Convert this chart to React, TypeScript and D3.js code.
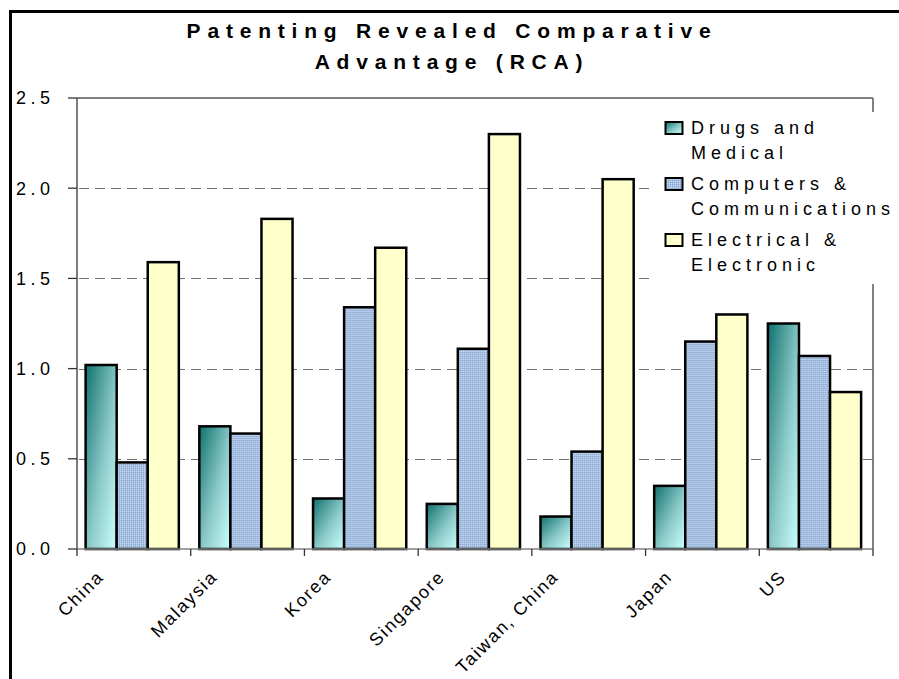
import React from "react";
import * as d3 from "d3";

const categories = ["China", "Malaysia", "Korea", "Singapore", "Taiwan, China", "Japan", "US"];
const drugs = [1.02, 0.68, 0.28, 0.25, 0.18, 0.35, 1.25];
const computers = [0.48, 0.64, 1.34, 1.11, 0.54, 1.15, 1.07];
const electrical = [1.59, 1.83, 1.67, 2.3, 2.05, 1.3, 0.87];
const seriesKeys = ["drugs", "computers", "electrical"];
const legendLines = [
  ["Drugs and", "Medical"],
  ["Computers &", "Communications"],
  ["Electrical &", "Electronic"],
];
const yTicks = [0, 0.5, 1.0, 1.5, 2.0, 2.5];
const titleLines = ["Patenting Revealed Comparative", "Advantage (RCA)"];

const W = 899;
const H = 679;
const left = 77;
const right = 873;
const top = 98;
const bottom = 549;
const font = "Arial, 'Liberation Sans', sans-serif";

const fills = ["url(#drugGrad)", "url(#compPat)", "#ffffcc"];

export default function App() {
  const values = [drugs, computers, electrical];

  const x = d3.scaleBand().domain(categories).range([left, right]).padding(0);
  const inner = d3
    .scaleBand()
    .domain(seriesKeys)
    .range([0, x.bandwidth()])
    .paddingInner(0)
    .paddingOuter(0.33)
    .align(0.42);
  const y = d3.scaleLinear().domain([0, 2.5]).range([bottom, top]);

  const bounds = categories.map((c) => x(c)).concat([right]);

  return (
    <div style={{ position: "absolute", left: 0, top: 0 }}>
      <svg width={W} height={H} style={{ display: "block", fontFamily: font }}>
        <defs>
          <linearGradient id="drugGrad" x1="0" y1="0" x2="1" y2="1">
            <stop offset="0" stopColor="#0f716d" />
            <stop offset="0.55" stopColor="#8ccaca" />
            <stop offset="1" stopColor="#ccffff" />
          </linearGradient>
          <pattern id="compPat" width="2" height="2" patternUnits="userSpaceOnUse">
            <rect width="2" height="2" fill="#a6c0e2" />
            <rect width="1" height="1" fill="#8aa9d2" />
            <rect x="1" y="1" width="1" height="1" fill="#c4d7ee" />
          </pattern>
        </defs>
        <rect width={W} height={H} fill="#fff" />
        <rect x={10.5} y={11.5} width={W + 20} height={H + 20} fill="#fff" stroke="#000" strokeWidth={3} />

        {/* title */}
        {titleLines.map((t, i) => (
          <text
            key={t}
            x={452}
            y={38 + i * 31}
            textAnchor="middle"
            fontSize={21}
            fontWeight="bold"
            letterSpacing={6.8}
            fill="#000"
          >
            {t}
          </text>
        ))}

        {/* plot frame */}
        <line x1={left} x2={right} y1={top} y2={top} stroke="#808080" strokeWidth={2} />
        <line x1={right} x2={right} y1={top} y2={bottom} stroke="#808080" strokeWidth={2} />

        {/* gridlines */}
        {yTicks.slice(1, -1).map((t) => (
          <line
            key={t}
            x1={left + 2}
            x2={right}
            y1={Math.round(y(t)) + 0.5}
            y2={Math.round(y(t)) + 0.5}
            stroke="#707070"
            strokeWidth={1.2}
            strokeDasharray="10,6"
          />
        ))}

        {/* bars */}
        {categories.map((c, ci) => (
          <g key={c} transform={`translate(${x(c)},0)`}>
            {seriesKeys.map((k, si) => (
              <rect
                key={k}
                x={inner(k)}
                y={y(values[si][ci])}
                width={inner.bandwidth()}
                height={bottom - y(values[si][ci])}
                fill={fills[si]}
                stroke="#000"
                strokeWidth={2.5}
              />
            ))}
          </g>
        ))}

        {/* axes */}
        <line x1={left} x2={left} y1={top} y2={bottom} stroke="#505050" strokeWidth={1.5} />
        <line x1={left} x2={right} y1={bottom} y2={bottom} stroke="#808080" strokeWidth={1.5} />
        {yTicks.map((t) => (
          <g key={t}>
            <line x1={68} x2={left} y1={y(t)} y2={y(t)} stroke="#333" strokeWidth={1.3} />
            <text
              x={54.5}
              y={y(t)}
              dy="0.36em"
              textAnchor="end"
              fontSize={18}
              letterSpacing={4.5}
              fill="#000"
            >
              {d3.format(".1f")(t)}
            </text>
          </g>
        ))}
        {bounds.map((b, i) => (
          <line key={i} x1={b} x2={b} y1={bottom} y2={bottom + 7} stroke="#333" strokeWidth={1.3} />
        ))}
        {categories.map((c) => {
          const cx = x(c) + x.bandwidth() / 2 - 29;
          const cy = bottom + 29;
          return (
            <text
              key={c}
              transform={`translate(${cx},${cy}) rotate(-45)`}
              textAnchor="end"
              fontSize={18}
              letterSpacing={1.8}
              fill="#000"
            >
              {c}
            </text>
          );
        })}

        {/* legend */}
        <rect x={655} y={112} width={250} height={172} fill="#fff" />
        {legendLines.map((lines, i) => {
          const base = 134 + i * 56;
          return (
            <g key={i}>
              <rect
                x={665.5}
                y={base - 12}
                width={17}
                height={12}
                fill={fills[i]}
                stroke="#000"
                strokeWidth={2}
              />
              {lines.map((l, j) => (
                <text key={l} x={691} y={base + j * 24.5} fontSize={18} letterSpacing={5} fill="#000">
                  {l}
                </text>
              ))}
            </g>
          );
        })}
      </svg>
    </div>
  );
}
